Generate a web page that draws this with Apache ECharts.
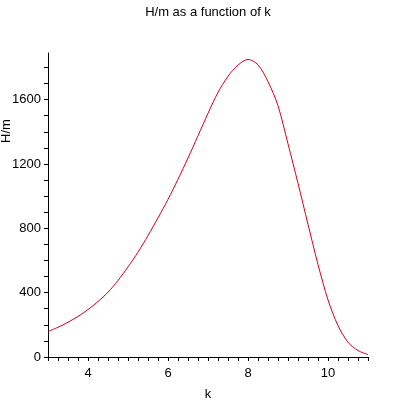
<!DOCTYPE html>
<html>
<head>
<meta charset="utf-8">
<script src="https://cdn.jsdelivr.net/npm/echarts@6/dist/echarts.min.js"></script>
<style>
html,body{margin:0;padding:0;background:#fff;}
#c{width:416px;height:401px;}
</style>
</head>
<body>
<div id="c"></div>
<script>
var titleText = 'H/m as a function of k';
var xName = 'k';
var yName = 'H/m';
var kValues = [3.0,3.25,3.5,3.75,4.0,4.25,4.5,4.75,5.0,5.25,5.5,5.75,6.0,6.25,6.5,6.75,7.0,7.25,7.5,7.75,8.0,8.25,8.5,8.75,9.0,9.25,9.5,9.75,10.0,10.25,10.5,10.75,11.0];
var hmValues = [158,185,216,252,295,345,403,476,560,652,755,865,980,1105,1237,1375,1515,1645,1745,1815,1850,1816,1712,1562,1325,1080,825,575,355,195,92,40,15];
var xLabelTicks = [4,6,8,10];
var yLabelTicks = [0,400,800,1200,1600];

var data = kValues.map(function(k,i){return [k,hmValues[i]];});
var font = 'Liberation Sans, Arial, sans-serif';
var chart = echarts.init(document.getElementById('c'), null, {renderer:'canvas'});
chart.setOption({
  animation:false,
  backgroundColor:'#fff',
  title:{text:titleText,left:'center',top:1,textStyle:{fontFamily:font,fontSize:13,fontWeight:'normal',color:'#000'}},
  grid:{left:48,right:48,top:53,bottom:44,outerBoundsMode:'none',containLabel:false},
  xAxis:{type:'value',min:3,max:11,interval:0.25,
    name:xName,nameLocation:'middle',nameGap:31,
    nameTextStyle:{fontFamily:font,fontSize:13,color:'#000'},
    axisLine:{lineStyle:{color:'#000',width:1}},
    axisTick:{show:true,length:4,inside:false,lineStyle:{color:'#000'}},
    splitLine:{show:false},
    axisLabel:{fontFamily:font,fontSize:13,color:'#000',margin:10,showMinLabel:true,showMaxLabel:true,
      formatter:function(v){return xLabelTicks.indexOf(Math.round(v*100)/100)>=0?String(v):'';}}
  },
  yAxis:{type:'value',min:0,max:1890,interval:100,
    axisLine:{show:true,lineStyle:{color:'#000',width:1}},
    axisTick:{show:true,length:4,lineStyle:{color:'#000'}},
    splitLine:{show:false},
    axisLabel:{fontFamily:font,fontSize:13,color:'#000',margin:7,showMaxLabel:false,
      formatter:function(v){return yLabelTicks.indexOf(v)>=0?String(v):'';}}
  },
  graphic:[{type:'text',x:6,y:131,rotation:Math.PI/2,
    style:{text:yName,fontFamily:font,fontSize:13,fill:'#000',align:'center',verticalAlign:'middle'}}],
  series:[{type:'line',data:data,smooth:0.3,showSymbol:false,
    lineStyle:{color:'#d4001c',width:1},itemStyle:{color:'#d4001c'}}]
});
</script>
</body>
</html>
